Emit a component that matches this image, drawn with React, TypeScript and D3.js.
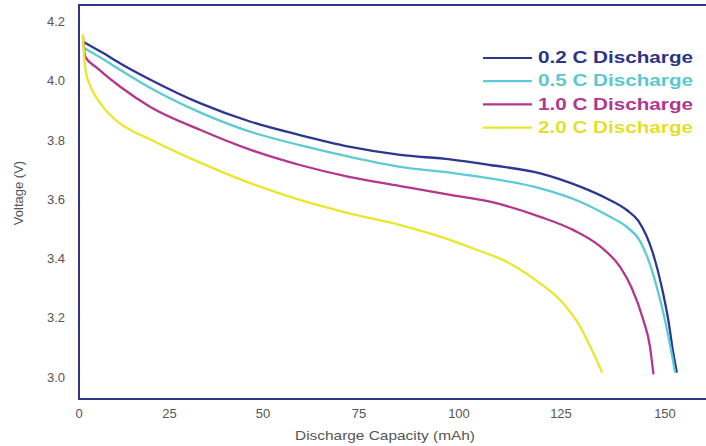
import React from "react";
import * as d3 from "d3";

const W = 706;
const H = 446;

const xTicks = [0, 25, 50, 75, 100, 125, 150];
const yTicks = [3.0, 3.2, 3.4, 3.6, 3.8, 4.0, 4.2];

// [capacity mAh, voltage V]
const c02: [number, number][] = [
  [1.5, 4.13], [6.7, 4.094], [11.3, 4.06], [19.6, 4.005],
  [33.3, 3.924], [46.7, 3.862], [59.6, 3.817], [72.4, 3.778], [85.3, 3.75], [97.8, 3.735],
  [107.6, 3.716], [119.9, 3.688], [129.6, 3.643], [136, 3.603], [140.8, 3.564], [143.6, 3.527],
  [147.1, 3.418], [149.2, 3.305], [150.8, 3.192], [152, 3.08], [152.8, 3.018],
];
const c05: [number, number][] = [
  [1.5, 4.11], [6.7, 4.073], [11.3, 4.038], [19.6, 3.977], [33.3, 3.893],
  [46.7, 3.828], [59.6, 3.783], [72.4, 3.744], [85.3, 3.71], [97.8, 3.69], [107.6, 3.671],
  [119.9, 3.637], [129.6, 3.592], [136, 3.547], [140.8, 3.507], [144, 3.459], [146.2, 3.388],
  [148.1, 3.3], [150, 3.192], [151.6, 3.08], [152.4, 3.018],
];
const c10: [number, number][] = [
  [1.1, 4.15], [1.7, 4.082], [4.9, 4.045], [11.3, 3.981], [19.6, 3.913], [33.3, 3.834],
  [46.7, 3.767], [59.6, 3.716], [72.4, 3.676], [85.3, 3.645], [97.8, 3.615], [107.6, 3.592],
  [119.9, 3.541], [128, 3.496], [134.5, 3.44], [139.2, 3.372], [141.9, 3.304], [144.8, 3.192],
  [146.4, 3.102], [147.2, 3.012],
];
const c20: [number, number][] = [
  [1.1, 4.155], [1.4, 4.087], [1.9, 4.03], [3.0, 3.986], [4.7, 3.946], [6.9, 3.908],
  [10.2, 3.867], [14.6, 3.832], [19.6, 3.803], [26.5, 3.762], [33.2, 3.724], [46.7, 3.654],
  [59.6, 3.598], [72.4, 3.553], [85.3, 3.513], [95.3, 3.474], [103.5, 3.434], [111.7, 3.389],
  [119.9, 3.316], [124.8, 3.26], [129.6, 3.17], [132.8, 3.08], [134.8, 3.018],
];

const seriesNames = ["0.2 C Discharge", "0.5 C Discharge", "1.0 C Discharge", "2.0 C Discharge"];
const seriesData = [c02, c05, c10, c20];
const lineColors = ["#2c3790", "#5ccbd3", "#b3378f", "#ebe62c"];
const textColors = ["#2b3488", "#5cc7d0", "#b0388e", "#e4df2a"];

export default function App() {
  const x = d3.scaleLinear().domain(xTicks).range([79, 169.5, 263, 359, 459, 561, 665]);
  const y = d3.scaleLinear().domain([3.0, 4.2]).range([377, 21.7]);
  const line = d3
    .line<[number, number]>()
    .x((d) => x(d[0]))
    .y((d) => y(d[1]))
    .curve(d3.curveMonotoneX);

  const font = "'Liberation Sans', Arial, Helvetica, sans-serif";
  const frameTop = 5;
  const frameBottom = 399;

  return (
    <svg
      width={W}
      height={H}
      viewBox={`0 0 ${W} ${H}`}
      style={{ position: "absolute", left: 0, top: 0, display: "block", background: "#fff" }}
    >
      <rect x={0} y={0} width={W} height={H} fill="#ffffff" />
      {seriesData.map((s, i) => (
        <path
          key={i}
          d={line(s) || ""}
          fill="none"
          stroke={lineColors[i]}
          strokeWidth={2.3}
          strokeLinejoin="round"
          strokeLinecap="round"
        />
      ))}
      <rect
        x={79}
        y={frameTop}
        width={W}
        height={frameBottom - frameTop}
        fill="none"
        stroke="#2f3686"
        strokeWidth={2}
      />
      {yTicks.map((t) => (
        <text
          key={t}
          x={65}
          y={y(t)}
          dy="0.35em"
          textAnchor="end"
          fontFamily={font}
          fontSize={13}
          fill="#555"
        >
          {t.toFixed(1)}
        </text>
      ))}
      {xTicks.map((t) => (
        <text
          key={t}
          x={x(t)}
          y={413}
          dy="0.35em"
          textAnchor="middle"
          fontFamily={font}
          fontSize={13}
          fill="#555"
        >
          {t}
        </text>
      ))}
      <text
        x={385}
        y={435}
        dy="0.35em"
        textAnchor="middle"
        fontFamily={font}
        fontSize={13}
        fill="#555"
        textLength={180}
        lengthAdjust="spacingAndGlyphs"
      >
        Discharge Capacity (mAh)
      </text>
      <text
        transform={`translate(18,193) rotate(-90)`}
        dy="0.35em"
        textAnchor="middle"
        fontFamily={font}
        fontSize={13}
        fill="#555"
      >
        Voltage (V)
      </text>
      {seriesNames.map((n, i) => {
        const cy = 57 + i * 23.2;
        return (
          <g key={n}>
            <line x1={483} x2={532} y1={cy + 1} y2={cy + 1} stroke={lineColors[i]} strokeWidth={2.2} />
            <text
              x={538}
              y={cy}
              dy="0.36em"
              fontFamily={font}
              fontSize={17}
              fontWeight="bold"
              fill={textColors[i]}
              textLength={155}
              lengthAdjust="spacingAndGlyphs"
            >
              {n}
            </text>
          </g>
        );
      })}
    </svg>
  );
}
